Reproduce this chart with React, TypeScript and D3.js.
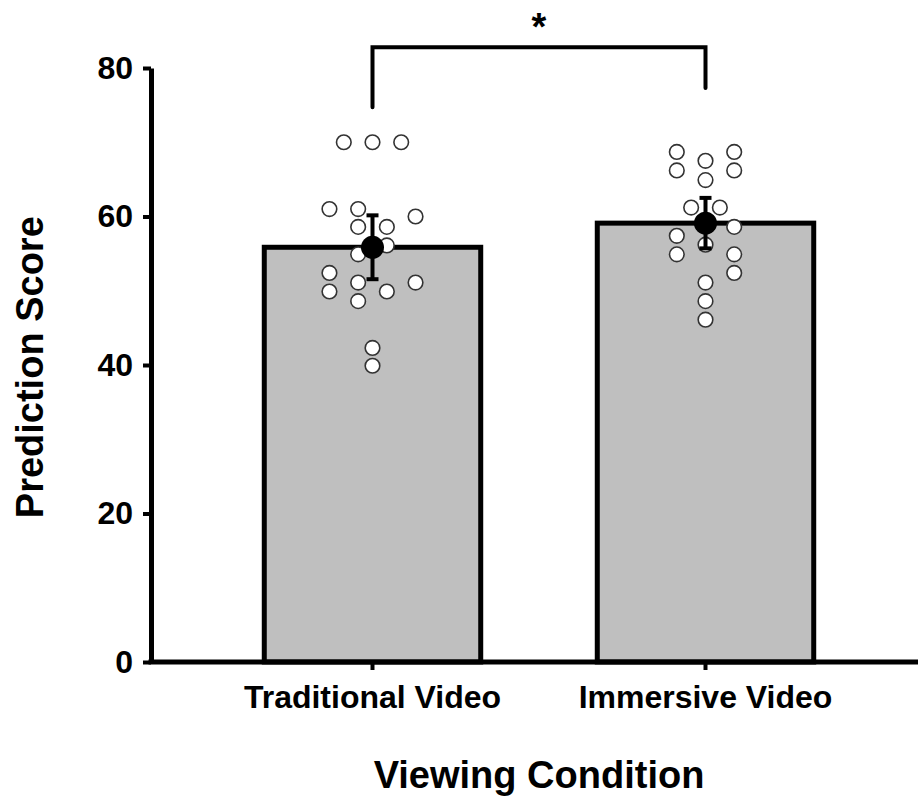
import * as d3 from "d3";
import React, { useRef, useEffect } from "react";

const width = 918;
const height = 800;
const font = "'Liberation Sans', Arial, Helvetica, sans-serif";

// categories and raw scores
const categories = ["Traditional Video", "Immersive Video"];

const traditionalScores = [
  70, 70, 70, 61, 61, 60, 58.6, 58.6, 56.1, 54.9, 52.4, 51.1, 51.1, 49.9,
  49.9, 48.6, 42.3, 39.9,
];
// swarm column of each point (in half-dot steps from the centre)
const traditionalSlots = [-2, 0, 2, -3, -1, 3, -1, 1, 1, -1, -3, -1, 3, -3, 1, -1, 0, 0];

const immersiveScores = [
  68.7, 68.7, 67.5, 66.2, 66.2, 64.9, 61.2, 61.2, 58.6, 57.4, 56.2, 54.9,
  54.9, 52.4, 51.1, 48.6, 46.1,
];
const immersiveSlots = [-2, 2, 0, -2, 2, 0, -1, 1, 2, -2, 0, -2, 2, 2, 0, 0, 0];

const errors = [4.3, 3.4];
const yTicks = [0, 20, 40, 60, 80];

// significance bracket: height of the bar and of each leg end
const bracketTop = 82.8;
const bracketLegs = [74.7, 77.3];

const groups = [
  { name: categories[0], scores: traditionalScores, slots: traditionalSlots, err: errors[0] },
  { name: categories[1], scores: immersiveScores, slots: immersiveSlots, err: errors[1] },
];

const PredictionChart = () => {
  const xAxisRef = useRef(null);
  const yAxisRef = useRef(null);

  const yScale = d3.scaleLinear().domain([0, 80]).range([662, 68]);
  const xScale = d3
    .scaleBand()
    .domain(categories)
    .range([206, 872])
    .paddingInner(0.35)
    .paddingOuter(0.175);

  const dotStep = 14.35;
  const center = (name) => xScale(name) + xScale.bandwidth() / 2;

  useEffect(() => {
    if (yAxisRef.current) {
      const yAxis = d3
        .axisLeft(yScale)
        .tickValues(yTicks)
        .tickSize(8)
        .tickSizeOuter(0)
        .tickPadding(10);
      const g = d3.select(yAxisRef.current).call(yAxis);
      g.select(".domain").attr("stroke-width", 5).attr("stroke", "black");
      g.selectAll(".tick line").attr("stroke-width", 4).attr("stroke", "black");
      g.selectAll(".tick text")
        .attr("font-size", 32)
        .attr("font-weight", "bold")
        .attr("font-family", font)
        .attr("fill", "black");
    }
    if (xAxisRef.current) {
      const xAxis = d3.axisBottom(xScale).tickSize(8).tickSizeOuter(0).tickPadding(15);
      const g = d3.select(xAxisRef.current).call(xAxis);
      g.select(".domain")
        .attr("d", "M148.5,0H918")
        .attr("stroke-width", 5)
        .attr("stroke", "black");
      g.selectAll(".tick line").attr("stroke-width", 4).attr("stroke", "black");
      g.selectAll(".tick text")
        .attr("font-size", 32)
        .attr("font-weight", "bold")
        .attr("font-family", font)
        .attr("fill", "black");
    }
  });

  const x0 = center(categories[0]);
  const x1 = center(categories[1]);

  return (
    <svg
      width={width}
      height={height}
      style={{ position: "absolute", left: 0, top: 0, background: "white" }}
    >
      {groups.map((g) => {
        const m = d3.mean(g.scores);
        return (
          <rect
            key={g.name}
            x={xScale(g.name)}
            y={yScale(m)}
            width={xScale.bandwidth()}
            height={yScale(0) - yScale(m)}
            fill="#bfbfbf"
            stroke="black"
            strokeWidth={5}
          />
        );
      })}

      <g ref={xAxisRef} transform={`translate(0, ${yScale(0)})`} />
      <g ref={yAxisRef} transform={`translate(151, 0)`} />

      {groups.map((g) =>
        g.scores.map((s, i) => (
          <circle
            key={g.name + i}
            cx={center(g.name) + g.slots[i] * dotStep}
            cy={yScale(s)}
            r={7.3}
            fill="white"
            stroke="#333"
            strokeWidth={1.6}
          />
        ))
      )}

      {groups.map((g) => {
        const m = d3.mean(g.scores);
        const cx = center(g.name);
        return (
          <g key={g.name + "-mean"}>
            <line x1={cx} x2={cx} y1={yScale(m - g.err)} y2={yScale(m + g.err)} stroke="black" strokeWidth={4} />
            <line x1={cx - 6} x2={cx + 6} y1={yScale(m + g.err)} y2={yScale(m + g.err)} stroke="black" strokeWidth={4} />
            <line x1={cx - 6} x2={cx + 6} y1={yScale(m - g.err)} y2={yScale(m - g.err)} stroke="black" strokeWidth={4} />
            <circle cx={cx} cy={yScale(m)} r={11.5} fill="black" />
          </g>
        );
      })}

      <path
        d={`M${x0},${yScale(bracketLegs[0])}V${yScale(bracketTop)}H${x1}V${yScale(bracketLegs[1])}`}
        fill="none"
        stroke="black"
        strokeWidth={4}
        strokeLinecap="round"
      />
      <text
        x={(x0 + x1) / 2}
        y={40}
        textAnchor="middle"
        fontFamily={font}
        fontWeight="bold"
        fontSize={38}
      >
        *
      </text>

      <text
        transform={`translate(43, ${yScale(39.7)}) rotate(-90)`}
        textAnchor="middle"
        fontFamily={font}
        fontWeight="bold"
        fontSize={38}
      >
        Prediction Score
      </text>
      <text
        x={539}
        y={788}
        textAnchor="middle"
        fontFamily={font}
        fontWeight="bold"
        fontSize={38}
      >
        Viewing Condition
      </text>
    </svg>
  );
};

export default function App() {
  return <PredictionChart />;
}
